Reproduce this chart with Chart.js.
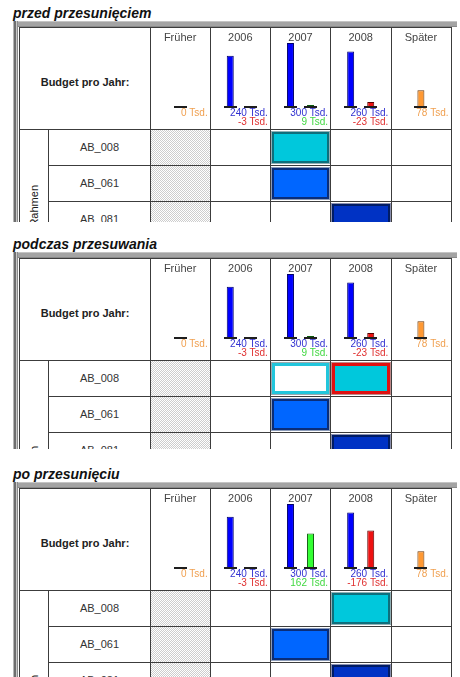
<!DOCTYPE html>
<html>
<head>
<meta charset="utf-8">
<title>Budget pro Jahr</title>
<script src="https://cdn.jsdelivr.net/npm/chart.js@4.4.1/dist/chart.umd.min.js"></script>
<style>
  html, body { margin: 0; padding: 0; background: #fff; width: 460px; height: 677px; overflow: hidden; }
  body { position: relative; font-family: "Liberation Sans", Arial, sans-serif; }
  .abs { position: absolute; box-sizing: border-box; }
  .title { position: absolute; left: 13px; height: 16px; line-height: 16px; font: bold italic 14px "Liberation Sans", Arial, sans-serif; color: #111; white-space: nowrap; }
  .panel { position: absolute; left: 0; width: 460px; overflow: hidden; }
  .hatch { background: repeating-conic-gradient(#cdcdcd 0 25%, #ffffff 0 50%) 0 0 / 2px 2px; }
  .name { font-size: 11px; color: #333; text-align: center; white-space: nowrap; }
  .budget { font-weight: bold; font-size: 11px; color: #222; text-align: center; white-space: nowrap; }
  .group { font-size: 11px; color: #1a1a1a; white-space: nowrap; text-align: right; transform-origin: 0 0; transform: rotate(-90deg); }
</style>
</head>
<body>
<script>
// ---- data ----
const categories = ['Früher', '2006', '2007', '2008', 'Später'];
const budgetTsd = [0, 240, 300, 260, 78];
const shiftBeforeTsd = [null, -3, 9, -23, null];
const shiftAfterTsd = [null, -3, 162, -176, null];
const rowNames = ['AB_008', 'AB_061', 'AB_081'];
const groupName = 'Rahmen';
const panelTitles = ['przed przesunięciem', 'podczas przesuwania', 'po przesunięciu'];
// planned items: [row, category index, kind]
const blocksBefore = [[0, 2, 'cyan'], [1, 2, 'blue'], [2, 3, 'navy']];
const blocksDuring = [[0, 2, 'ghost'], [0, 3, 'moving'], [1, 2, 'blue'], [2, 3, 'navy']];
const blocksAfter = [[0, 3, 'cyan'], [1, 2, 'blue'], [2, 3, 'navy']];

// ---- layout & styles ----
const FONT = '"Liberation Sans", Arial, sans-serif';
const COL_X = [150, 210, 270, 330, 391, 451];
const LEFT_X = 19, GROUP_X = 48;
const BAR_H = 6, HEAD_H = 102, ROW_H = 36;
const LINE = '#3c3c3c';
const panels = [
  { title: panelTitles[0], top: 21, height: 201, shift: shiftBeforeTsd, blocks: blocksBefore, groupEnd: 56 },
  { title: panelTitles[1], top: 252, height: 197, shift: shiftBeforeTsd, blocks: blocksDuring, groupEnd: 86 },
  { title: panelTitles[2], top: 482, height: 195, shift: shiftAfterTsd, blocks: blocksAfter, groupEnd: 85 }
];
const blockStyles = {
  cyan:   { fill: '#00c8dc', border: '#0e6f7c', bw: 2, outer: '#8fb0b6' },
  blue:   { fill: '#0066ff', border: '#0a2d78', bw: 2, outer: '#8a9ab8' },
  navy:   { fill: '#0032c4', border: '#001c66', bw: 2, outer: '#8a90b0' },
  ghost:  { fill: '#ffffff', border: '#22c6dc', bw: 3, outer: '#9aaab0' },
  moving: { fill: '#00c8dc', border: '#e01010', bw: 3, outer: '#c08888' }
};
const edgeCats = [0, 4];
const colors = {
  budgetFill: i => edgeCats.includes(i) ? '#ff9933' : '#0000ff',
  budgetBorder: i => edgeCats.includes(i) ? '#6a3300' : '#00006a',
  budgetText: i => edgeCats.includes(i) ? '#f0a050' : '#3030d0',
  shiftFill: v => v < 0 ? '#ee1111' : '#33ff33',
  shiftBorder: v => v < 0 ? '#5a0000' : '#0a5a0a',
  shiftText: v => v < 0 ? '#e03030' : '#40d840'
};

function el(parent, cls, css, text) {
  const d = document.createElement('div');
  d.className = cls;
  Object.assign(d.style, css);
  if (text != null) d.textContent = text;
  parent.appendChild(d);
  return d;
}
const px = v => v + 'px';

// ground line under each bar
const barBaselines = {
  id: 'barBaselines',
  afterDatasetsDraw(chart) {
    const ctx = chart.ctx;
    ctx.save();
    ctx.fillStyle = '#1e1e1e';
    chart.data.datasets.forEach((ds, di) => {
      chart.getDatasetMeta(di).data.forEach((bar, i) => {
        if (ds.data[i] == null) return;
        ctx.fillRect(Math.round(bar.x - 6.5), Math.round(bar.base) - 1, 13, 2);
      });
    });
    ctx.restore();
  }
};

// "xxx Tsd." captions below each column
const valueLabels = {
  id: 'valueLabels',
  afterDraw(chart) {
    const { ctx, scales: { x, y } } = chart;
    const base = y.getPixelForValue(0);
    const half = (x.getPixelForValue(1) - x.getPixelForValue(0)) / 2;
    const shift = chart.data.datasets[1].signed;
    ctx.save();
    ctx.font = '10px ' + FONT;
    ctx.textAlign = 'right';
    ctx.textBaseline = 'middle';
    categories.forEach((c, i) => {
      const right = x.getPixelForValue(i) + half - 2.5;
      ctx.fillStyle = colors.budgetText(i);
      ctx.fillText(budgetTsd[i] + ' Tsd.', right, base + 6);
      if (shift[i] != null) {
        ctx.fillStyle = colors.shiftText(shift[i]);
        ctx.fillText(shift[i] + ' Tsd.', right, base + 15);
      }
    });
    ctx.restore();
  }
};

panels.forEach(p => {
  el(document.body, 'title', { top: px(p.top - 16) }, p.title);
  const pane = el(document.body, 'panel', { top: px(p.top), height: px(p.height) });
  const H = p.height;
  const headTop = BAR_H, headBot = BAR_H + HEAD_H;

  // window frame
  el(pane, 'abs', { left: '15px', top: '0px', width: px(457 - 15), height: px(BAR_H),
    background: 'linear-gradient(#c4c4c4 0 1px, #a4a4a4 1px 5px, #8a8a8a 5px)' });
  el(pane, 'abs', { left: '13px', top: '0px', width: '5px', height: px(H),
    background: 'linear-gradient(to right, #b4b4b4 0 1px, #6e6e6e 1px 3px, #c8c8c8 3px 4px, #8c8c8c 4px)' });

  // hatched "Früher" column
  el(pane, 'abs hatch', { left: px(COL_X[0] + 1), top: px(headBot + 1), width: px(COL_X[1] - COL_X[0] - 1), height: px(H - headBot) });

  // planned items
  p.blocks.forEach(([r, c, kind]) => {
    const s = blockStyles[kind];
    const top = headBot + r * ROW_H;
    el(pane, 'abs', {
      left: px(COL_X[c] + 2), top: px(top + 3),
      width: px(COL_X[c + 1] - COL_X[c] - 3), height: px(ROW_H - 5),
      background: s.fill, border: s.bw + 'px solid ' + s.border,
      boxShadow: '0 0 0 1px ' + s.outer
    });
  });

  // grid lines
  const hl = (x1, x2, y) => el(pane, 'abs', { left: px(x1), top: px(y), width: px(x2 - x1 + 1), height: '1px', background: LINE });
  const vl = (x, y1, y2) => el(pane, 'abs', { left: px(x), top: px(y1), width: '1px', height: px(y2 - y1), background: LINE });
  hl(LEFT_X, COL_X[5], headTop);
  hl(LEFT_X, COL_X[5], headBot);
  for (let y = headBot + ROW_H; y < H; y += ROW_H) hl(GROUP_X, COL_X[5], y);
  vl(LEFT_X, headTop, H);
  vl(GROUP_X, headBot, H);
  COL_X.forEach(x => vl(x, headTop, H));

  // header caption
  el(pane, 'abs budget', { left: px(LEFT_X + 1), width: px(COL_X[0] - LEFT_X - 1), top: px(headTop + 48), height: '14px', lineHeight: '14px' }, 'Budget pro Jahr:');

  // row names
  rowNames.forEach((n, r) => {
    el(pane, 'abs name', { left: px(GROUP_X + 1), width: px(COL_X[0] - GROUP_X - 1), top: px(headBot + r * ROW_H), height: px(ROW_H), lineHeight: px(ROW_H) }, n);
  });

  // rotated group caption
  const gw = 80, gh = 14;
  el(pane, 'abs group', { left: px(33.5 - gh / 2), top: px(headBot + p.groupEnd + gw), width: px(gw), height: px(gh), lineHeight: px(gh) }, groupName);

  // budget chart in the header row
  const cv = document.createElement('canvas');
  cv.width = COL_X[5] - COL_X[0];
  cv.height = HEAD_H;
  Object.assign(cv.style, { position: 'absolute', left: px(COL_X[0]), top: px(headTop), width: px(cv.width), height: px(cv.height) });
  pane.appendChild(cv);

  new Chart(cv, {
    type: 'bar',
    data: {
      labels: categories,
      datasets: [
        {
          data: budgetTsd,
          backgroundColor: budgetTsd.map((v, i) => colors.budgetFill(i)),
          borderColor: budgetTsd.map((v, i) => colors.budgetBorder(i)),
          borderWidth: 1
        },
        {
          data: p.shift.map(v => v == null ? null : Math.abs(v)),
          signed: p.shift,
          backgroundColor: p.shift.map(v => colors.shiftFill(v)),
          borderColor: p.shift.map(v => colors.shiftBorder(v)),
          borderWidth: 1
        }
      ]
    },
    options: {
      responsive: false,
      animation: false,
      devicePixelRatio: 1,
      layout: { padding: { top: 5, bottom: 22, left: 0, right: 0 } },
      datasets: { bar: { categoryPercentage: 0.667, barPercentage: 0.35, maxBarThickness: 7, skipNull: true, clip: false } },
      plugins: { legend: { display: false }, tooltip: { enabled: false } },
      scales: {
        x: {
          position: 'top',
          grid: { display: false, drawTicks: false },
          border: { display: false },
          ticks: { color: '#444', padding: 0, maxRotation: 0, autoSkip: false, font: { family: FONT, size: 11, lineHeight: 1 } }
        },
        y: { display: false, min: 0, max: 300 }
      }
    },
    plugins: [barBaselines, valueLabels]
  });
});
</script>
</body>
</html>
